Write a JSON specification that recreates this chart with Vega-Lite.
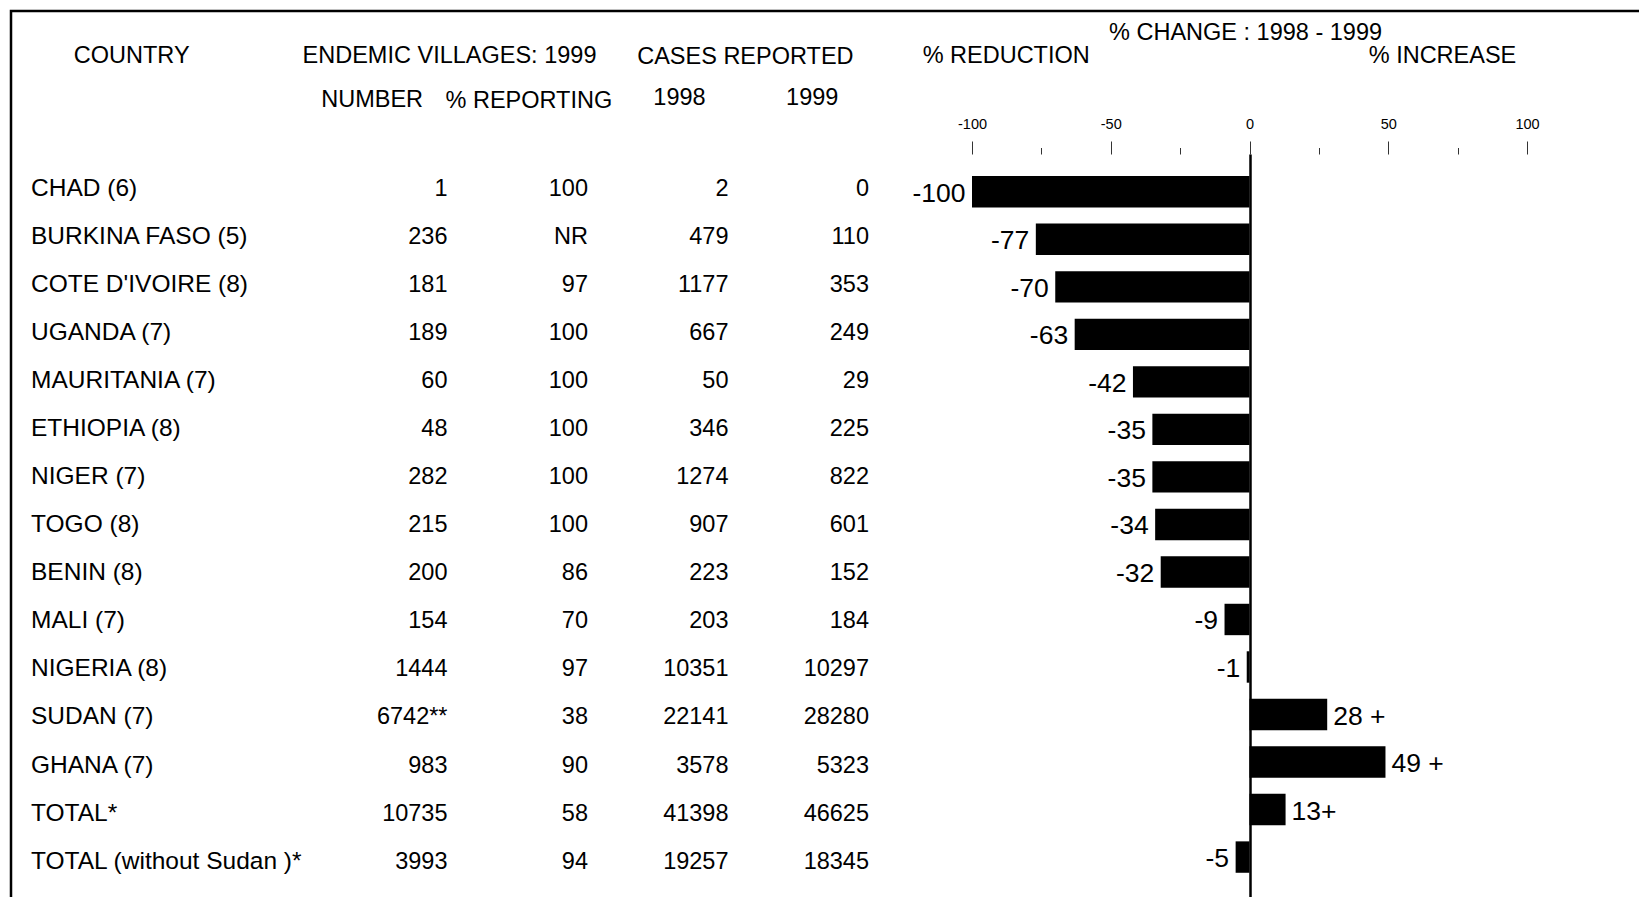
{
  "$schema": "https://vega.github.io/schema/vega-lite/v6.json",
  "width": 1639,
  "height": 897,
  "autosize": {"type": "fit", "contains": "padding"},
  "padding": {"left": 11, "top": 11, "right": -3, "bottom": -3},
  "background": "white",
  "config": {
    "view": {"stroke": "#000", "strokeWidth": 2.5},
    "text": {"font": "Liberation Sans", "color": "#000"},
    "axis": {"labelFont": "Liberation Sans"}
  },
  "datasets": {
    "rows": [
      {"country": "CHAD (6)", "number": 1, "pct": 100, "c1998": 2, "c1999": 0, "change": -100, "label": "-100"},
      {"country": "BURKINA FASO (5)", "number": 236, "pct": "NR", "c1998": 479, "c1999": 110, "change": -77, "label": "-77"},
      {"country": "COTE D'IVOIRE (8)", "number": 181, "pct": 97, "c1998": 1177, "c1999": 353, "change": -70, "label": "-70"},
      {"country": "UGANDA (7)", "number": 189, "pct": 100, "c1998": 667, "c1999": 249, "change": -63, "label": "-63"},
      {"country": "MAURITANIA (7)", "number": 60, "pct": 100, "c1998": 50, "c1999": 29, "change": -42, "label": "-42"},
      {"country": "ETHIOPIA (8)", "number": 48, "pct": 100, "c1998": 346, "c1999": 225, "change": -35, "label": "-35"},
      {"country": "NIGER (7)", "number": 282, "pct": 100, "c1998": 1274, "c1999": 822, "change": -35, "label": "-35"},
      {"country": "TOGO (8)", "number": 215, "pct": 100, "c1998": 907, "c1999": 601, "change": -34, "label": "-34"},
      {"country": "BENIN (8)", "number": 200, "pct": 86, "c1998": 223, "c1999": 152, "change": -32, "label": "-32"},
      {"country": "MALI (7)", "number": 154, "pct": 70, "c1998": 203, "c1999": 184, "change": -9, "label": "-9"},
      {"country": "NIGERIA (8)", "number": 1444, "pct": 97, "c1998": 10351, "c1999": 10297, "change": -1, "label": "-1"},
      {"country": "SUDAN (7)", "number": "6742**", "pct": 38, "c1998": 22141, "c1999": 28280, "change": 28, "label": "28 +"},
      {"country": "GHANA (7)", "number": 983, "pct": 90, "c1998": 3578, "c1999": 5323, "change": 49, "label": "49 +"},
      {"country": "TOTAL*", "number": 10735, "pct": 58, "c1998": 41398, "c1999": 46625, "change": 13, "label": "13+"},
      {"country": "TOTAL (without Sudan )*", "number": 3993, "pct": 94, "c1998": 19257, "c1999": 18345, "change": -5, "label": "-5"}
    ]
  },
  "resolve": {"scale": {"x": "independent", "y": "independent"}, "axis": {"x": "independent", "y": "independent"}},
  "layer": [
    {
      "data": {"name": "rows"},
      "layer": [
        {
          "transform": [{"fold": ["country"], "as": ["key", "value"]}],
          "mark": {"type": "text", "align": "left", "dx": 5, "fontSize": 24.5},
          "encoding": {
            "x": {"field": "key", "type": "nominal", "axis": null,
              "scale": {"type": "point", "domain": ["country", "c2", "c3", "number", "pct", "c1998", "c1999"], "range": [15, 858], "padding": 0}},
            "y": {"field": "country", "type": "nominal", "sort": null, "axis": null,
              "scale": {"type": "point", "padding": 0, "range": [177.5, 850.7],
                "domain": ["CHAD (6)", "BURKINA FASO (5)", "COTE D'IVOIRE (8)", "UGANDA (7)", "MAURITANIA (7)", "ETHIOPIA (8)", "NIGER (7)", "TOGO (8)", "BENIN (8)", "MALI (7)", "NIGERIA (8)", "SUDAN (7)", "GHANA (7)", "TOTAL*", "TOTAL (without Sudan )*"]}},
            "text": {"field": "value", "type": "nominal"}
          }
        },
        {
          "transform": [{"fold": ["number", "pct", "c1998", "c1999"], "as": ["key", "value"]}],
          "mark": {"type": "text", "align": "right", "fontSize": 23.5},
          "encoding": {
            "x": {"field": "key", "type": "nominal", "axis": null},
            "y": {"field": "country", "type": "nominal", "sort": null, "axis": null},
            "text": {"field": "value", "type": "nominal"}
          }
        }
      ]
    },
    {
      "layer": [
        {
          "data": {"values": [{"text": "COUNTRY", "slot": "country", "line": "main"}]},
          "mark": {"type": "text", "fontSize": 23.5, "dx": 106.7},
          "encoding": {
            "x": {"field": "slot", "type": "nominal", "axis": null,
              "scale": {"type": "point", "padding": 0, "range": [14, 1415.7], "domain": ["country", "c2", "c3", "number", "pct", "c1998", "c1999", "b1", "b2", "b3", "b4"]}},
            "y": {"field": "line", "type": "nominal", "axis": null,
              "scale": {"type": "point", "padding": 0, "range": [22.4, 89.3], "domain": ["change", "main", "gap", "sub"]}},
            "text": {"field": "text"}
          }
        },
        {
          "data": {"values": [{"text": "ENDEMIC VILLAGES: 1999", "slot": "number", "line": "main"}]},
          "mark": {"type": "text", "fontSize": 23.5, "dx": 4},
          "encoding": {"x": {"field": "slot", "type": "nominal", "axis": null}, "y": {"field": "line", "type": "nominal", "axis": null}, "text": {"field": "text"}}
        },
        {
          "data": {"values": [{"text": "CASES REPORTED", "slot": "c1998", "line": "main"}]},
          "mark": {"type": "text", "fontSize": 23.5, "dx": 19.5, "dy": 1},
          "encoding": {"x": {"field": "slot", "type": "nominal", "axis": null}, "y": {"field": "line", "type": "nominal", "axis": null}, "text": {"field": "text"}}
        },
        {
          "data": {"values": [{"text": "NUMBER", "slot": "number", "line": "sub"}]},
          "mark": {"type": "text", "fontSize": 23.5, "dx": -73.4},
          "encoding": {"x": {"field": "slot", "type": "nominal", "axis": null}, "y": {"field": "line", "type": "nominal", "axis": null}, "text": {"field": "text"}}
        },
        {
          "data": {"values": [{"text": "% REPORTING", "slot": "pct", "line": "sub"}]},
          "mark": {"type": "text", "fontSize": 23.5, "dx": -56.8, "dy": 1},
          "encoding": {"x": {"field": "slot", "type": "nominal", "axis": null}, "y": {"field": "line", "type": "nominal", "axis": null}, "text": {"field": "text"}}
        },
        {
          "data": {"values": [{"text": "1998", "slot": "c1998", "line": "sub"}]},
          "mark": {"type": "text", "fontSize": 23.5, "dx": -46.4, "dy": -2},
          "encoding": {"x": {"field": "slot", "type": "nominal", "axis": null}, "y": {"field": "line", "type": "nominal", "axis": null}, "text": {"field": "text"}}
        },
        {
          "data": {"values": [{"text": "1999", "slot": "c1999", "line": "sub"}]},
          "mark": {"type": "text", "fontSize": 23.5, "dx": -53.8, "dy": -2},
          "encoding": {"x": {"field": "slot", "type": "nominal", "axis": null}, "y": {"field": "line", "type": "nominal", "axis": null}, "text": {"field": "text"}}
        },
        {
          "data": {"values": [{"text": "% REDUCTION", "slot": "b1", "line": "main"}]},
          "mark": {"type": "text", "fontSize": 23.5, "dx": 0},
          "encoding": {"x": {"field": "slot", "type": "nominal", "axis": null}, "y": {"field": "line", "type": "nominal", "axis": null}, "text": {"field": "text"}}
        },
        {
          "data": {"values": [{"text": "% CHANGE : 1998 - 1999", "slot": "b3", "line": "change"}]},
          "mark": {"type": "text", "fontSize": 23.5, "dx": -41},
          "encoding": {"x": {"field": "slot", "type": "nominal", "axis": null}, "y": {"field": "line", "type": "nominal", "axis": null}, "text": {"field": "text"}}
        },
        {
          "data": {"values": [{"text": "% INCREASE", "slot": "b4", "line": "main"}]},
          "mark": {"type": "text", "fontSize": 23.5, "dx": 15.8},
          "encoding": {"x": {"field": "slot", "type": "nominal", "axis": null}, "y": {"field": "line", "type": "nominal", "axis": null}, "text": {"field": "text"}}
        }
      ]
    },
    {
      "data": {"name": "rows"},
      "layer": [
        {
          "mark": {"type": "bar", "color": "#000"},
          "encoding": {
            "y": {"field": "country", "type": "nominal", "sort": null,
              "scale": {"type": "band", "range": [143, 889], "paddingInner": 0.339, "paddingOuter": 0.519, "align": 0.448,
                "domain": ["CHAD (6)", "BURKINA FASO (5)", "COTE D'IVOIRE (8)", "UGANDA (7)", "MAURITANIA (7)", "ETHIOPIA (8)", "NIGER (7)", "TOGO (8)", "BENIN (8)", "MALI (7)", "NIGERIA (8)", "SUDAN (7)", "GHANA (7)", "TOTAL*", "TOTAL (without Sudan )*"]},
              "axis": {"orient": "left", "offset": -1239, "domain": true, "domainColor": "#000", "domainWidth": 2.5, "ticks": false, "labels": false, "title": null, "grid": false, "zindex": 1}},
            "x": {"field": "change", "type": "quantitative",
              "scale": {"domain": [-100, 100], "range": [961, 1516], "nice": false, "zero": false},
              "axis": {"orient": "top", "offset": -143, "values": [-100, -75, -50, -25, 0, 25, 50, 75, 100],
                "tickSize": {"condition": {"test": "datum.value % 50 === 0", "value": 13}, "value": 6.5},
                "labelExpr": "datum.value % 50 === 0 ? '' + datum.value : ''",
                "domain": false, "grid": false, "title": null, "labelFontSize": 14.5, "labelColor": "#000",
                "tickColor": "#333", "tickWidth": 1, "labelPadding": 10, "labelFlush": false, "labelOverlap": false}},
            "x2": {"datum": 0}
          }
        },
        {
          "transform": [{"filter": "datum.change < 0"}],
          "mark": {"type": "text", "align": "right", "dx": -6.5, "dy": 2, "fontSize": 26.5},
          "encoding": {
            "x": {"field": "change", "type": "quantitative"},
            "y": {"field": "country", "type": "nominal", "sort": null},
            "text": {"field": "label"}
          }
        },
        {
          "transform": [{"filter": "datum.change >= 0"}],
          "mark": {"type": "text", "align": "left", "dx": 6, "dy": 2, "fontSize": 26.5},
          "encoding": {
            "x": {"field": "change", "type": "quantitative"},
            "y": {"field": "country", "type": "nominal", "sort": null},
            "text": {"field": "label"}
          }
        }
      ]
    }
  ]
}
